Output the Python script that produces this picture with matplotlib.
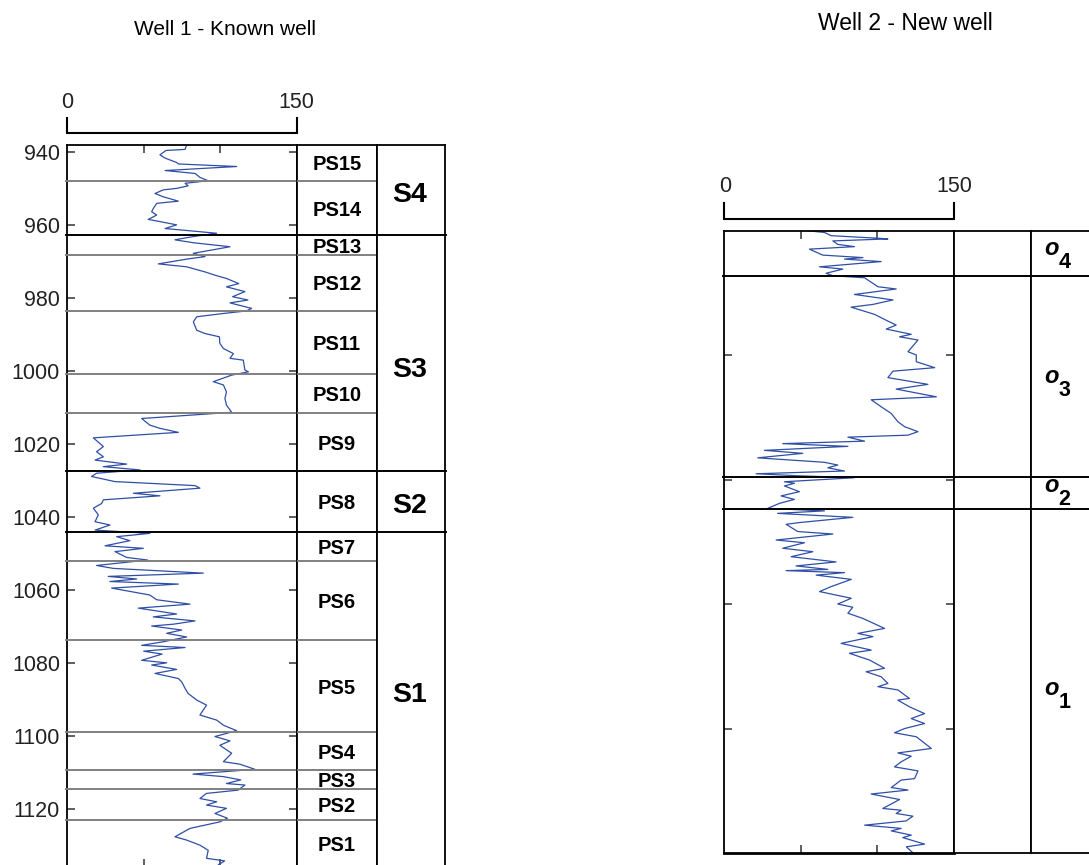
import matplotlib
matplotlib.use('Agg')
import matplotlib.pyplot as plt
from matplotlib.lines import Line2D

# ---------------- data ----------------
# Well 1 (known well): depth (m) and log value (0-150)
w1_depth = [938.0, 939.2, 939.5, 940.7, 941.6, 942.8, 943.2, 943.9, 945.0, 945.8, 946.9, 947.8,
            948.5, 949.2, 949.9, 950.3, 951.3, 952.2, 953.4, 954.0, 955.4, 956.3, 957.2, 958.4,
            959.0, 959.9, 960.9, 962.2, 963.1, 964.0, 964.8, 965.9, 967.7, 968.6, 969.3, 970.6,
            971.4, 972.8, 973.7, 974.6, 976.0, 976.9, 978.2, 979.6, 980.5, 981.3, 982.8, 983.5,
            984.2, 985.1, 986.5, 988.8, 989.7, 990.6, 992.4, 993.8, 995.2, 996.5, 997.0, 999.7,
            1000.2, 1001.1, 1002.9, 1003.8, 1005.7, 1007.5, 1009.3, 1011.3, 1013.0, 1014.8, 1015.7,
            1016.8, 1018.3, 1020.7, 1022.1, 1023.5, 1024.4, 1025.5, 1026.2, 1027.1, 1028.0, 1028.9,
            1030.3, 1031.4, 1032.1, 1033.5, 1034.2, 1035.3, 1036.3, 1037.6, 1039.4, 1041.3, 1042.2,
            1043.6, 1044.5, 1045.4, 1046.5, 1047.9, 1048.6, 1049.5, 1051.1, 1051.8, 1053.3, 1054.1,
            1055.4, 1056.3, 1057.0, 1057.7, 1058.4, 1059.5, 1061.4, 1062.7, 1063.9, 1065.0, 1066.6,
            1067.4, 1068.5, 1069.4, 1069.9, 1071.0, 1071.9, 1072.9, 1074.2, 1075.2, 1075.8, 1076.8,
            1077.6, 1079.3, 1080.0, 1080.6, 1081.8, 1082.9, 1084.3, 1085.2, 1087.0, 1088.4, 1090.2,
            1091.6, 1094.3, 1095.7, 1097.1, 1098.6, 1100.2, 1101.4, 1102.6, 1104.8, 1107.1, 1107.8,
            1109.2, 1110.5, 1111.2, 1112.1, 1113.1, 1113.5, 1114.9, 1115.8, 1117.2, 1118.1, 1119.0,
            1119.9, 1121.3, 1122.6, 1123.6, 1125.4, 1127.7, 1128.6, 1130.0, 1131.4, 1133.6, 1134.3,
            1135.4]
w1_value = [78, 77, 64.6, 60.6, 64, 71.5, 72.6, 110.7, 64, 83.5, 86.8, 92,
            77, 79, 71.5, 62.8, 57.4, 62.8, 72.6, 58.5, 56.3, 55.2, 58.5, 53,
            60.6, 71.5, 64, 97.6, 82.4, 70.4, 82.4, 106.3, 82.4, 90, 78, 59.6,
            78, 90, 96.5, 104, 112, 104, 116, 108, 118, 106.3, 120.4, 117,
            102, 84.6, 82.4, 84.6, 90, 99.4, 99.7, 102, 108.5, 106.3, 115, 116,
            118.3, 107.4, 95.4, 102, 104, 103, 104, 107.4, 48.7, 54, 60.6,
            72.6, 17.2, 23.7, 19.3, 23.7, 18.3, 38.9, 23.7, 47.6, 19.3, 16,
            31.3, 83.5, 86.7, 43.3, 60.6, 23.7, 22.6, 17.2, 20.4, 18.3, 28,
            18.3, 54, 32.4, 41, 24.8, 49.8, 31.3, 38.9, 52.5, 19.3, 30.2,
            88.9, 26.9, 45.4, 28, 72.6, 29.1, 54, 58.5, 80.2, 46.5, 71.5,
            56.3, 83.5, 69.4, 55.2, 74.8, 65, 78, 63, 48.7, 77, 50,
            62, 48.7, 65, 55.2, 71.5, 57.4, 72.6, 74.8, 77, 79, 84.6,
            91, 86.7, 97.6, 102, 110.6, 96.5, 106.3, 99.7, 107.4, 102, 112.8,
            122.6, 82.2, 102, 113.3, 104, 116, 111.6, 91, 86.7, 97.6, 91,
            104, 96.5, 104.6, 99.7, 80.2, 70.4, 78, 86.7, 92.1, 91, 102.8,
            98.7]

ps_names = ['PS15', 'PS14', 'PS13', 'PS12', 'PS11', 'PS10', 'PS9', 'PS8',
            'PS7', 'PS6', 'PS5', 'PS4', 'PS3', 'PS2', 'PS1']
ps_bounds = [938.0, 947.8, 962.8, 968.2, 983.4, 1000.7, 1011.6, 1027.3, 1044.2,
             1052.0, 1073.7, 1099.0, 1109.5, 1114.6, 1123.1, 1135.9]
s_names = ['S4', 'S3', 'S2', 'S1']
s_bounds = [938.0, 962.8, 1027.3, 1044.2, 1135.9]
s_label_depth = [951.0, 999.0, 1036.3, 1088.0]
w1_depth_ticks = [940, 960, 980, 1000, 1020, 1040, 1060, 1080, 1100, 1120]

# Well 2 (new well): relative depth (0-250) and log value (0-150)
w2_depth = [0.1, 0.7, 2.0, 3.1, 3.3, 4.1, 5.5, 6.4, 7.4, 9.8, 10.8, 11.4, 12.4, 14.5, 15.4,
            17.1, 18.1, 18.9, 19.8, 22.5, 23.4, 25.6, 27.8, 29.6, 30.7, 33.6, 36.3, 37.9, 39.5,
            41.6, 42.6, 43.9, 48.6, 49.9, 52.6, 55.0, 56.4, 59.0, 61.7, 63.6, 66.7, 67.9, 70.7,
            73.4, 76.7, 78.7, 80.7, 82.1, 82.9, 84.5, 85.5, 86.6, 88.2, 89.4, 91.2, 93.0, 94.1,
            95.2, 96.5, 97.6, 98.4, 99.2, 100.8, 101.4, 102.5, 104.8, 106.5, 107.9, 109.5, 111.5,
            112.5, 113.5, 115.1, 117.2, 117.9, 120.8, 121.8, 124.2, 125.3, 127.5, 128.9, 130.9,
            133.0, 134.6, 136.0, 136.5, 137.3, 138.3, 140.0, 142.9, 144.9, 147.6, 149.9, 151.2,
            153.6, 155.7, 159.7, 161.7, 163.0, 165.7, 168.4, 169.7, 172.4, 175.7, 177.1, 179.1,
            181.8, 183.1, 184.4, 187.8, 188.5, 191.2, 193.9, 195.9, 197.9, 199.9, 201.6, 203.2,
            207.9, 209.7, 211.0, 213.3, 215.3, 216.9, 220.0, 220.6, 223.6, 224.6, 226.2, 228.4,
            232.0, 232.7, 234.0, 235.1, 237.0, 238.7, 240.0, 241.0, 242.7, 243.7, 246.3, 247.4,
            249.8]
w2_value = [55.7, 65.5, 69.9, 102.5, 106.9, 71, 74.2, 85.1, 55.7, 64.4, 90.6, 78.6, 102.5, 62.3, 77.5,
            66.6, 71, 91.7, 93.8, 100.4, 112.3, 85.1, 110.2, 97.1, 82.9, 98.2, 106.9, 112.3, 105.8,
            122.1, 114.5, 126.5, 120, 125.4, 125.4, 137.4, 110.2, 106.9, 133, 112.3, 138.5, 96, 102.5,
            109.1, 113.4, 117.8, 126.5, 120, 80.8, 91.7, 38.3, 80.8, 26.3, 51.4, 22, 65.5, 74.2,
            67.7, 78.6, 20.9, 48.1, 85, 39.4, 46, 39.4, 49.2, 37.2, 45.9, 36.1, 28.5,
            65.5, 35, 84, 49.2, 40.5, 48.1, 71, 34, 52.5, 38.3, 57.9, 43.8,
            73.1, 47, 67.7, 40.5, 78.6, 60.1, 83, 69.9, 62.3, 83, 74.2, 84,
            80.8, 90.6, 104.7, 87.3, 97.1, 76.4, 96, 81.8, 94.9, 104.7, 92.7, 102.5,
            106.9, 100.4, 113.4, 120.9, 113.4, 121, 130.8, 122.1, 130.8, 117.8, 111.2, 125.4,
            135.2, 113.4, 122.1, 115.5, 111.2, 126.5, 124.3, 115.5, 109.1, 120, 96, 114.5,
            103.6, 115.5, 112.3, 123.2, 118.8, 91.7, 115.5, 109.1, 122.1, 116.6, 130.8, 118.9,
            123.2]

o_digits = ['4', '3', '2', '1']
o_bounds = [0.0, 18.2, 99.1, 111.7, 250.0]
o_label_base = [9.8, 61.0, 104.8, 186.5]
w2_depth_ticks = [50, 100, 150, 200]

scale_min, scale_max = 0, 150
track_ticks = [50, 100]

# ---------------- figure ----------------
W, H = 1089, 865
fig = plt.figure(figsize=(W / 100, H / 100), dpi=100)
plt.rcParams['font.family'] = ['Liberation Sans', 'DejaVu Sans']

def rect(x0, y0, x1, y1):
    return [x0 / W, 1 - y1 / H, (x1 - x0) / W, (y1 - y0) / H]

def fx(px):
    return px / W

def fy(py):
    return 1 - py / H

CURVE = '#2f4fa6'
GRAY = '#808080'
TICK = '#333333'
LW_BOX = 1.3
LW_B = 1.4

def style_box(ax):
    for s in ax.spines.values():
        s.set_linewidth(LW_BOX)
        s.set_color('black')

# ----- Well 1 -----
top1, bot1 = 145, 866.7
ax1 = fig.add_axes(rect(67, top1, 297, bot1))
ax1.plot(w1_value, w1_depth, color=CURVE, lw=0.9, zorder=2)
ax1.set_xlim(scale_min, scale_max)
ax1.set_ylim(ps_bounds[-1], ps_bounds[0])
ax1.set_yticks(w1_depth_ticks)
ax1.set_xticks(track_ticks)
ax1.tick_params(axis='y', direction='in', left=True, right=True, length=6, width=1.1,
                color=TICK, labelsize=15.5, labelcolor='#222222', pad=5)
ax1.tick_params(axis='x', direction='in', top=True, bottom=True, length=6, width=1.1,
                color=TICK, labelbottom=False)
style_box(ax1)

ax2 = fig.add_axes(rect(297, top1, 377, bot1))
ax3 = fig.add_axes(rect(377, top1, 445, bot1))
for ax in (ax2, ax3):
    ax.set_xlim(0, 1)
    ax.set_ylim(ps_bounds[-1], ps_bounds[0])
    ax.set_xticks([])
    ax.set_yticks([])
    style_box(ax)

s_inner = set(s_bounds[1:-1])
for d in ps_bounds[1:-1]:
    if d in s_inner:
        col = 'black'
    else:
        col = GRAY
    ax1.axhline(d, xmin=-0.006, xmax=1, color=col, lw=LW_B, clip_on=False, zorder=3)
    ax2.axhline(d, color=col, lw=LW_B, zorder=3)
for d in s_bounds[1:-1]:
    ax3.axhline(d, xmin=0, xmax=1.01, color='black', lw=LW_B, clip_on=False, zorder=3)

for name, a, b in zip(ps_names, ps_bounds[:-1], ps_bounds[1:]):
    ax2.text(0.5, (a + b) / 2, name, ha='center', va='center_baseline', fontsize=14.5,
             fontweight='bold', color='black')
for name, d in zip(s_names, s_label_depth):
    ax3.text(0.48, d, name, ha='center', va='center_baseline', fontsize=20.5,
             fontweight='bold', color='black')

# scale bracket well 1
fig.add_artist(Line2D([fx(67), fx(67), fx(297), fx(297)], [fy(118), fy(133), fy(133), fy(118)],
                      color='black', lw=1.5, solid_joinstyle='miter'))
fig.text(fx(67), fy(108.3), str(scale_min), ha='center', va='baseline', fontsize=15.5, color='#222222')
fig.text(fx(296.5), fy(108.3), str(scale_max), ha='center', va='baseline', fontsize=15.5, color='#222222')

# ----- Well 2 -----
top2, bot2 = 230.7, 853.3
ax4 = fig.add_axes(rect(724, top2, 954, bot2))
ax4.plot(w2_value, w2_depth, color=CURVE, lw=0.9, zorder=2)
ax4.set_xlim(scale_min, scale_max)
ax4.set_ylim(o_bounds[-1], o_bounds[0])
ax4.set_yticks(w2_depth_ticks)
ax4.set_xticks(track_ticks)
ax4.tick_params(axis='y', direction='in', left=True, right=True, length=6, width=1.1,
                color=TICK, labelleft=False)
ax4.tick_params(axis='x', direction='in', top=True, bottom=True, length=6, width=1.1,
                color=TICK, labelbottom=False)
style_box(ax4)
ax4.spines['bottom'].set_linewidth(2.0)

ax5 = fig.add_axes(rect(954, top2, 1031, bot2))
ax6 = fig.add_axes(rect(1031, top2, 1110, bot2))
for ax in (ax5, ax6):
    ax.set_xlim(0, 1)
    ax.set_ylim(o_bounds[-1], o_bounds[0])
    ax.set_xticks([])
    ax.set_yticks([])
    style_box(ax)

for d in o_bounds[1:-1]:
    ax4.axhline(d, xmin=-0.006, xmax=1, color='black', lw=LW_B, clip_on=False, zorder=3)
    ax5.axhline(d, color='black', lw=LW_B, zorder=3)
    ax6.axhline(d, color='black', lw=LW_B, zorder=3)

col_w = 1110 - 1031
for dig, base in zip(o_digits, o_label_base):
    ax6.text((1051 - 1031) / col_w, base, 'o', ha='center', va='baseline', fontsize=17,
             fontstyle='italic', fontweight='bold', color='black')
    ax6.annotate(dig, xy=((1051 - 1031) / col_w, base), xycoords=ax6.get_yaxis_transform(),
                 xytext=(9.6, -9.6), textcoords='offset points', ha='center', va='baseline',
                 fontsize=15.5, fontweight='bold', color='black')

fig.add_artist(Line2D([fx(724), fx(724), fx(954), fx(954)], [fy(202.7), fy(219.3), fy(219.3), fy(202.7)],
                      color='black', lw=1.5, solid_joinstyle='miter'))
fig.text(fx(725), fy(191.7), str(scale_min), ha='center', va='baseline', fontsize=15.5, color='#222222')
fig.text(fx(954), fy(191.7), str(scale_max), ha='center', va='baseline', fontsize=15.5, color='#222222')

# ----- titles -----
title_font = ['Liberation Sans Narrow', 'Liberation Sans', 'DejaVu Sans']
fig.text(fx(224.5), fy(35), 'Well 1 - Known well', ha='center', va='baseline', fontsize=15,
         family=title_font, color='black')
fig.text(fx(905), fy(30), 'Well 2 - New well', ha='center', va='baseline', fontsize=16.5,
         family=title_font, color='black')

fig.savefig('out.png', dpi=100)
